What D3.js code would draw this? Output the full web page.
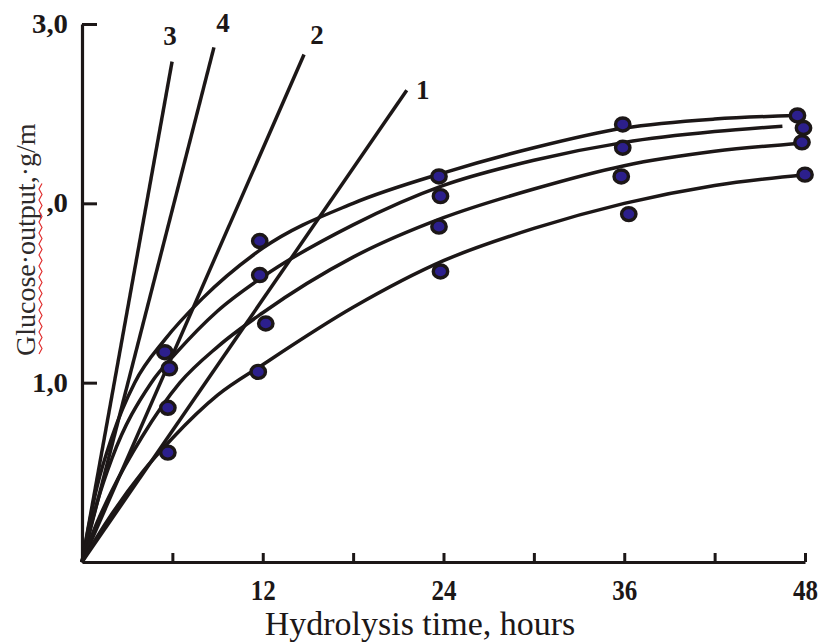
<!DOCTYPE html>
<html>
<head>
<meta charset="utf-8">
<script src="https://cdn.jsdelivr.net/npm/d3@7"></script>
<style>
  body { margin: 0; background: #fff; }
  svg { display: block; font-family: "Liberation Serif", "Times New Roman", serif; }
</style>
</head>
<body>
<svg id="chart"></svg>
<script>
// x ticks (hours) and labelled ones
const xTicks = [6, 12, 18, 24, 30, 36, 42, 48];
const xLabels = [12, 24, 36, 48];
const yTicks = [1, 2, 3];

// measured points (hours, g/ml)
const pointHours = [5.5, 5.8, 5.7, 5.7, 11.8, 11.8, 12.2, 11.7, 23.7, 23.8, 23.7, 23.8,
  35.9, 35.9, 35.8, 36.3, 47.5, 47.9, 47.8, 48.0];
const pointValues = [1.17, 1.08, 0.86, 0.61, 1.79, 1.6, 1.33, 1.06, 2.15, 2.04, 1.87, 1.62,
  2.44, 2.31, 2.15, 1.94, 2.49, 2.42, 2.34, 2.16];

// fitted curves
const curve1 = [[0, 0], [1, 0.42], [2, 0.7], [3.5, 1.0], [5.5, 1.24], [8, 1.47], [12, 1.75],
  [18, 2.0], [24, 2.17], [30, 2.31], [36, 2.42], [42, 2.47], [47.4, 2.49]];
const curve2 = [[0, 0], [1, 0.33], [2, 0.58], [4.6, 1.0], [6.3, 1.17], [9, 1.4], [12, 1.59],
  [18, 1.88], [24, 2.1], [30, 2.24], [36, 2.34], [42, 2.4], [46.5, 2.43]];
const curve3 = [[0, 0], [1, 0.22], [2, 0.4], [4, 0.7], [6.5, 1.0], [9, 1.2], [12, 1.39],
  [18, 1.7], [24, 1.92], [30, 2.08], [36, 2.21], [42, 2.29], [47.8, 2.335]];
const curve4 = [[0, 0], [1, 0.14], [2, 0.27], [4, 0.5], [6, 0.69], [9, 0.93], [12, 1.1],
  [18, 1.42], [24, 1.68], [30, 1.86], [36, 2.0], [42, 2.1], [48, 2.16]];
const curves = [curve1, curve2, curve3, curve4];

// initial rate lines: label and end point
const lineNames = ["3", "4", "2", "1"];
const lineEndHours = [5.98, 8.76, 14.74, 21.56];
const lineEndValues = [2.79, 2.87, 2.83, 2.63];

const width = 819;
const height = 644;
const ink = "#1c1717";
// label offsets from the end of each line, px
const labelShift = [[-2, -17], [9, -15], [13, -10], [16, 9]];

const x = d3.scaleLinear().domain([0, 48]).range([82, 805]);
const y = d3.scaleLinear().domain([0, 3]).range([562, 24]);

const svg = d3.select("#chart").attr("width", width).attr("height", height);

//x axis, ticks pointing up
svg.append("g")
  .attr("transform", `translate(0,${y(0)})`)
  .call(d3.axisBottom(x).tickValues(xTicks).tickSize(-9).tickSizeOuter(0).tickPadding(17)
    .tickFormat((d) => (xLabels.includes(d) ? d : "")))
  .call((g) => g.select(".domain").attr("stroke", ink).attr("stroke-width", 3.2))
  .call((g) => g.selectAll(".tick line").attr("stroke", ink).attr("stroke-width", 3))
  .call((g) => g.selectAll(".tick text")
    .attr("fill", ink).attr("font-size", 30).attr("font-weight", "bold")
    .attr("font-family", "Liberation Serif")
    .filter((d) => xLabels.includes(d))
    .attr("textLength", 25).attr("lengthAdjust", "spacingAndGlyphs"));

//y axis, ticks pointing right
svg.append("g")
  .attr("transform", `translate(${x(0)},0)`)
  .call(d3.axisLeft(y).tickValues(yTicks).tickSize(-15).tickSizeOuter(0).tickPadding(14)
    .tickFormat((d) => d3.format(".1f")(d).replace(".", ",")))
  .call((g) => g.select(".domain").attr("stroke", ink).attr("stroke-width", 3.2))
  .call((g) => g.selectAll(".tick line").attr("stroke", ink).attr("stroke-width", 3))
  .call((g) => g.selectAll(".tick text")
    .attr("fill", ink).attr("font-size", 27).attr("font-weight", "bold")
    .attr("font-family", "Liberation Serif")
    .attr("textLength", 36).attr("lengthAdjust", "spacingAndGlyphs"));

//straight lines from origin
const lines = lineNames.map((n, i) => ({ name: n, h: lineEndHours[i], v: lineEndValues[i], s: labelShift[i] }));
svg.append("g")
  .selectAll("line")
  .data(lines)
  .join("line")
  .attr("x1", x(0))
  .attr("y1", y(0))
  .attr("x2", (d) => x(d.h))
  .attr("y2", (d) => y(d.v))
  .attr("stroke", ink)
  .attr("stroke-width", 3.5);

svg.append("g")
  .selectAll("text")
  .data(lines)
  .join("text")
  .attr("x", (d) => x(d.h) + d.s[0])
  .attr("y", (d) => y(d.v) + d.s[1])
  .attr("text-anchor", "middle")
  .attr("font-size", 27)
  .attr("font-weight", "bold")
  .attr("fill", ink)
  .text((d) => d.name);

//curves
const curveLine = d3.line()
  .x((d) => x(d[0]))
  .y((d) => y(d[1]))
  .curve(d3.curveMonotoneX);
svg.append("g")
  .selectAll("path")
  .data(curves)
  .join("path")
  .attr("d", curveLine)
  .attr("fill", "none")
  .attr("stroke", ink)
  .attr("stroke-width", 3.5);

//points
svg.append("g")
  .selectAll("ellipse")
  .data(pointHours.map((h, i) => [h, pointValues[i]]))
  .join("ellipse")
  .attr("cx", (d) => x(d[0]))
  .attr("cy", (d) => y(d[1]))
  .attr("rx", 7.2)
  .attr("ry", 6.5)
  .attr("fill", "#2c1f8c")
  .attr("stroke", ink)
  .attr("stroke-width", 3.4);

//y title on white, hides the "2" of 2,0
const yTitle = svg.append("g").attr("transform", "translate(35,356) rotate(-90)");
yTitle.append("rect")
  .attr("x", -2).attr("y", -26).attr("width", 238).attr("height", 38)
  .attr("fill", "#fff");
yTitle.append("text")
  .attr("font-size", 28)
  .attr("fill", "#2e2a2a")
  .text("Glucose·output,·g/m");

// spell-check squiggle under "Glucose output"
const squiggle = d3.range(0, 32).map((i) => [2 + i * 5.5, 4 + (i % 2) * 3]);
yTitle.append("path")
  .attr("d", d3.line()(squiggle))
  .attr("fill", "none")
  .attr("stroke", "#e03030")
  .attr("stroke-width", 1.2);

//x title
svg.append("text")
  .attr("x", 420)
  .attr("y", 635)
  .attr("text-anchor", "middle")
  .attr("font-size", 34)
  .attr("fill", ink)
  .text("Hydrolysis time, hours");
</script>
</body>
</html>
